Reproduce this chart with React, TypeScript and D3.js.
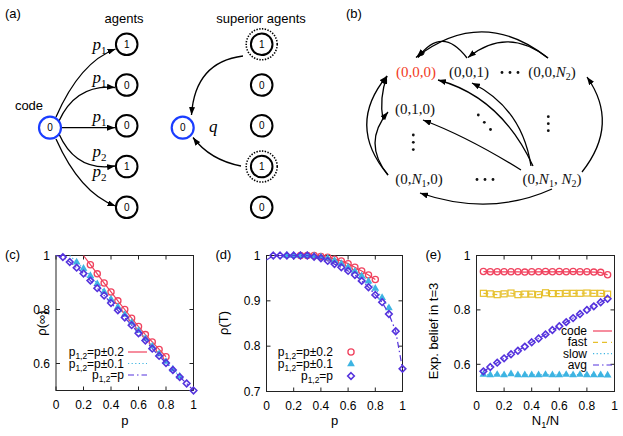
import * as d3 from 'd3';

// ---------- panel (c): rho(inf) vs p ----------
const cRedP = [0.25, 0.3, 0.35, 0.4, 0.45, 0.5, 0.55, 0.6, 0.65, 0.7, 0.75, 0.8];
const cRedV = [0.966, 0.932, 0.898, 0.865, 0.832, 0.8, 0.768, 0.737, 0.707, 0.68, 0.652, 0.625];
const cRedStart: [number, number] = [0.2, 1.0];

const cCyanP = [0.15, 0.2, 0.25, 0.3, 0.35, 0.4, 0.45, 0.5, 0.55, 0.6, 0.65, 0.7, 0.75, 0.8, 0.85, 0.9];
const cCyanV = [0.975, 0.952, 0.925, 0.895, 0.866, 0.838, 0.809, 0.781, 0.752, 0.722, 0.693, 0.664, 0.635, 0.607, 0.579, 0.552];
const cCyanStart: [number, number] = [0.1, 1.0];

const cBlueP = [0.05, 0.1, 0.15, 0.2, 0.25, 0.3, 0.35, 0.4, 0.45, 0.5, 0.55, 0.6, 0.65, 0.7, 0.75, 0.8, 0.85, 0.9, 0.95, 1.0];
const cBlueV = [0.994, 0.976, 0.955, 0.933, 0.907, 0.879, 0.852, 0.824, 0.797, 0.77, 0.742, 0.712, 0.685, 0.655, 0.628, 0.602, 0.576, 0.55, 0.526, 0.5];
const cBlueStart: [number, number] = [0, 1.0];

// ---------- panel (d): rho(T) vs p ----------
const dRedP = cRedP;
const dRedV = [1.0, 1.0, 1.0, 0.998, 0.996, 0.992, 0.988, 0.982, 0.974, 0.966, 0.957, 0.947];
const dRedStart: [number, number] = [0.2, 1.0];

const dCyanP = cCyanP;
const dCyanV = [1.0, 1.0, 1.0, 1.0, 0.999, 0.997, 0.994, 0.989, 0.982, 0.974, 0.965, 0.955, 0.943, 0.927, 0.907, 0.884];
const dCyanStart: [number, number] = [0.1, 1.0];

const dBlueP = cBlueP;
const dBlueV = [1.0, 1.0, 1.0, 1.0, 1.0, 1.0, 0.997, 0.994, 0.988, 0.981, 0.974, 0.966, 0.957, 0.944, 0.93, 0.913, 0.897, 0.871, 0.833, 0.75];
const dBlueStart: [number, number] = [0, 0.99];

// ---------- panel (e): expected belief at t=3 vs N1/N ----------
const eX = [0.05, 0.1, 0.15, 0.2, 0.25, 0.3, 0.35, 0.4, 0.45, 0.5, 0.55, 0.6, 0.65, 0.7, 0.75, 0.8, 0.85, 0.9, 0.95];
const eCode = [0.941, 0.94, 0.94, 0.94, 0.94, 0.94, 0.939, 0.94, 0.94, 0.941, 0.94, 0.941, 0.94, 0.941, 0.94, 0.94, 0.939, 0.938, 0.929];
const eFast = [0.861, 0.859, 0.856, 0.859, 0.862, 0.856, 0.858, 0.858, 0.856, 0.863, 0.86, 0.86, 0.861, 0.861, 0.861, 0.862, 0.861, 0.861, 0.858];
const eSlow = [0.562, 0.561, 0.562, 0.561, 0.564, 0.561, 0.561, 0.561, 0.561, 0.562, 0.561, 0.561, 0.562, 0.561, 0.562, 0.561, 0.561, 0.561, 0.56];
const eAvg = [0.574, 0.59, 0.606, 0.622, 0.637, 0.65, 0.665, 0.681, 0.695, 0.71, 0.726, 0.74, 0.755, 0.77, 0.785, 0.8, 0.813, 0.828, 0.841];

const xTicks = [0, 0.2, 0.4, 0.6, 0.8, 1];
const cYTicks = [0.6, 0.8, 1];
const dYTicks = [0.7, 0.8, 0.9, 1];
const eYTicks = [0.6, 0.8, 1];

// ---------- panel (a) ----------
const agentStates = ['1', '0', '0', '1', '0'];
const superiorStates = ['1', '0', '0', '1', '0'];
const superiorActive = [true, false, false, true, false];
const edgeSubs = ['1', '1', '1', '2', '2'];

const SANS = '"Liberation Sans", Arial, Helvetica, sans-serif';
const SERIF = '"Liberation Serif", "Times New Roman", serif';
const RED = '#f0425e';
const CYAN = '#3db4e2';
const BLUE = '#5533dd';
const YELLOW = '#e6c02c';

type Mk = 'circle' | 'triangle' | 'diamond' | 'square';
type Series = { xs: number[]; ys: number[]; start?: [number, number]; color: string; dash?: string; marker: Mk };
type Label = { main: string; sub?: string; rest?: string };
type Box = { l: number; r: number; t: number; b: number };

function Marker({ kind, color, x, y }: { kind: Mk; color: string; x: number; y: number }) {
  const t = `translate(${x},${y})`;
  if (kind === 'circle') return <circle cx={x} cy={y} r={3.1} fill="none" stroke={color} strokeWidth={1.3} />;
  if (kind === 'square') return <rect x={x - 3} y={y - 3} width={6} height={6} fill="none" stroke={color} strokeWidth={1.2} />;
  if (kind === 'triangle') return <path transform={t} d={d3.symbol(d3.symbolTriangle, 26)() || ''} fill={color} />;
  return <path transform={t} d="M0,-3.3L3.3,0L0,3.3L-3.3,0Z" fill="none" stroke={color} strokeWidth={1.6} />;
}

function LabelText({ lab, x, y, anchor, size }: { lab: Label; x: number; y: number; anchor: string; size: number }) {
  return (
    <text x={x} y={y} textAnchor={anchor} fontFamily={SANS} fontSize={size}>
      {lab.main}
      {lab.sub && <tspan dy={3} fontSize={size * 0.7}>{lab.sub}</tspan>}
      {lab.rest && <tspan dy={lab.sub ? -3 : 0}>{lab.rest}</tspan>}
    </text>
  );
}

function Plot(props: {
  box: Box; yDomain: [number, number]; yTicks: number[]; series: Series[];
  tag: string; xLabel: Label; yLabel: string; yLabelX: number; yLabelY: number; xLabelY: number;
  legend: { labels: Label[]; textRight: number; rows: number[]; lineX?: [number, number]; markerX?: number };
}) {
  const { box, yDomain, yTicks, series, legend } = props;
  const x = d3.scaleLinear().domain([0, 1]).range([box.l, box.r]);
  const y = d3.scaleLinear().domain(yDomain).range([box.b, box.t]);
  const line = d3.line<[number, number]>().x(d => x(d[0])).y(d => y(d[1]));
  const tk = 4;
  return (
    <g>
      <rect x={box.l} y={box.t} width={box.r - box.l} height={box.b - box.t} fill="none" stroke="#222" strokeWidth={1} />
      {xTicks.map(v => (
        <g key={'x' + v}>
          <line x1={x(v)} x2={x(v)} y1={box.b} y2={box.b - tk} stroke="#222" />
          <line x1={x(v)} x2={x(v)} y1={box.t} y2={box.t + tk} stroke="#222" />
          <text x={x(v)} y={box.b + 18} textAnchor="middle" fontFamily={SANS} fontSize={12}>{String(v)}</text>
        </g>
      ))}
      {yTicks.map(v => (
        <g key={'y' + v}>
          <line x1={box.l} x2={box.l + tk} y1={y(v)} y2={y(v)} stroke="#222" />
          <line x1={box.r} x2={box.r - tk} y1={y(v)} y2={y(v)} stroke="#222" />
          <text x={box.l - 6} y={y(v) + 4.3} textAnchor="end" fontFamily={SANS} fontSize={12}>{String(v)}</text>
        </g>
      ))}
      <text x={box.l - 51} y={box.t + 3} fontFamily={SANS} fontSize={13}>{props.tag}</text>
      <text transform={`translate(${props.yLabelX},${props.yLabelY}) rotate(-90)`} textAnchor="middle" fontFamily={SANS} fontSize={13}>{props.yLabel}</text>
      <LabelText lab={props.xLabel} x={(box.l + box.r) / 2} y={props.xLabelY} anchor="middle" size={13} />
      {series.map((s, i) => {
        const pts: [number, number][] = s.xs.map((v, j) => [v, s.ys[j]]);
        const lp = s.start ? [s.start, ...pts] : pts;
        return (
          <g key={i}>
            <path d={line(lp) || ''} fill="none" stroke={s.color} strokeWidth={1.2} strokeDasharray={s.dash} />
            {pts.map((p, j) => <Marker key={j} kind={s.marker} color={s.color} x={x(p[0])} y={y(p[1])} />)}
          </g>
        );
      })}
      {legend.labels.map((lab, i) => {
        const s = series[i];
        const cy = legend.rows[i];
        return (
          <g key={'l' + i}>
            <LabelText lab={lab} x={legend.textRight} y={cy + 4} anchor="end" size={12} />
            {legend.lineX && <line x1={legend.lineX[0]} x2={legend.lineX[1]} y1={cy} y2={cy} stroke={s.color} strokeWidth={1.2} strokeDasharray={s.dash} />}
            {legend.markerX !== undefined && <Marker kind={s.marker} color={s.color} x={legend.markerX} y={cy} />}
          </g>
        );
      })}
    </g>
  );
}

function PanelA() {
  const codeX = 50, codeY = 127.7, agentX = 126.7, supX = 261.7, blue2X = 182.7;
  const ys = d3.range(agentStates.length).map(i => 44.3 + i * 40.75);
  const paths = [
    `M56,117 Q80,62 115.5,49`,
    `M59,121 Q76,84 115,87.5`,
    `M62,${codeY} L115,${codeY}`,
    `M59,134 Q76,172 115,166`,
    `M56,139 Q80,193 115.5,206`,
  ];
  return (
    <g>
      <text x={5} y={18} fontFamily={SANS} fontSize={13}>(a)</text>
      <text x={124} y={23} textAnchor="middle" fontFamily={SANS} fontSize={13}>agents</text>
      <text x={261} y={23} textAnchor="middle" fontFamily={SANS} fontSize={13}>superior agents</text>
      <text x={29} y={110} textAnchor="middle" fontFamily={SANS} fontSize={13}>code</text>
      {paths.map((d, i) => <path key={i} d={d} fill="none" stroke="#000" strokeWidth={1.3} markerEnd="url(#ahA)" />)}
      {edgeSubs.map((s, i) => {
        const by = [50, 83, 121.5, 156.5, 177][i];
        return (
          <text key={i} x={92.5} y={by} fontFamily={SERIF} fontStyle="italic" fontSize={17}>
            p<tspan dy={4} fontSize={11} fontStyle="normal">{s}</tspan>
          </text>
        );
      })}
      <path d="M243,56 Q195,62 191.5,115" fill="none" stroke="#000" strokeWidth={1.3} markerEnd="url(#ahA)" />
      <path d="M241,166 Q210,160 193,137.5" fill="none" stroke="#000" strokeWidth={1.3} markerEnd="url(#ahA)" />
      <text x={209} y={132} fontFamily={SERIF} fontStyle="italic" fontSize={17}>q</text>
      {[[codeX, codeY], [blue2X, codeY]].map(([cx, cy], i) => (
        <g key={'b' + i}>
          <circle cx={cx} cy={cy} r={11} fill="#fff" stroke="#1a3dff" strokeWidth={2.2} />
          <text x={cx} y={cy + 3.5} textAnchor="middle" fontFamily={SANS} fontSize={10}>0</text>
        </g>
      ))}
      {ys.map((cy, i) => (
        <g key={'a' + i}>
          <circle cx={agentX} cy={cy} r={10.8} fill="#fff" stroke="#000" strokeWidth={2} />
          <text x={agentX} y={cy + 3.5} textAnchor="middle" fontFamily={SANS} fontSize={10}>{agentStates[i]}</text>
          {superiorActive[i] && <circle cx={supX} cy={cy} r={15.5} fill="none" stroke="#000" strokeWidth={1.6} strokeDasharray="1.4,1.4" />}
          <circle cx={supX} cy={cy} r={10.8} fill="#fff" stroke="#000" strokeWidth={2} />
          <text x={supX} y={cy + 3.5} textAnchor="middle" fontFamily={SANS} fontSize={10}>{superiorStates[i]}</text>
        </g>
      ))}
    </g>
  );
}

type Part = string | [string, string];

function State({ x, y, parts, color = '#111' }: { x: number; y: number; parts: Part[]; color?: string }) {
  const spans: JSX.Element[] = [];
  let shift = 0;
  parts.forEach((p, i) => {
    if (typeof p === 'string') {
      spans.push(<tspan key={i} dy={-shift}>{p}</tspan>);
      shift = 0;
    } else {
      spans.push(<tspan key={i + 'n'} dy={-shift} fontStyle="italic">{p[0]}</tspan>);
      spans.push(<tspan key={i + 's'} dy={3} fontSize={10}>{p[1]}</tspan>);
      shift = 3;
    }
  });
  return (
    <text x={x} y={y} textAnchor="middle" fontFamily={SERIF} fontSize={15} fill={color}>{spans}</text>
  );
}

function PanelB() {
  const arrows = [
    'M548,58 Q482,6 416,57.5',
    'M467,58 Q442,25 418,57.5',
    'M548,58 Q507,26 468,57.5',
    'M533,166 Q501,97 438,80',
    'M531,166 Q522,108 472,83',
    'M521,170 Q468,137 423,120',
    'M582,172 Q620,124 587,77',
    'M552,189 Q490,217 420,193',
    'M388,175 Q346,125 387,76',
    'M388,175 Q362,143 388,112',
    'M383,120 Q379,98 387,76',
  ];
  const dots: [number, number][] = [
    [502, 72.5], [510, 72.5], [518, 72.5],
    [477, 179.5], [485, 179.5], [493, 179.5],
    [548.3, 116.7], [548.3, 123.7], [548.3, 130.7],
    [413.3, 135], [413.3, 142.3], [413.3, 149.6],
    [478.3, 115], [484.3, 122.3], [490.5, 129.5],
  ];
  return (
    <g>
      <text x={346} y={18} fontFamily={SANS} fontSize={13}>(b)</text>
      {arrows.map((d, i) => <path key={i} d={d} fill="none" stroke="#000" strokeWidth={1.3} markerEnd="url(#ahB)" />)}
      <State x={416} y={77} parts={['(0,0,0)']} color="#f23a1e" />
      <State x={469} y={77} parts={['(0,0,1)']} />
      <State x={552} y={77} parts={['(0,0,', ['N', '2'], ')']} />
      <State x={415} y={113.5} parts={['(0,1,0)']} />
      <State x={419} y={183.5} parts={['(0,', ['N', '1'], ',0)']} />
      <State x={552} y={183.5} parts={['(0,', ['N', '1'], ', ', ['N', '2'], ')']} />
      {dots.map(([cx, cy], i) => <circle key={i} cx={cx} cy={cy} r={1.4} fill="#111" />)}
    </g>
  );
}

export default function App() {
  const rows3 = [352, 363.5, 375];
  return (
    <svg width={623} height={436} style={{ position: 'absolute', left: 0, top: 0, background: '#fff' }}>
      <defs>
        <marker id="ahA" viewBox="0 0 10 10" refX={10} refY={5} markerWidth={8} markerHeight={6} orient="auto" markerUnits="userSpaceOnUse" preserveAspectRatio="none">
          <path d="M0,0L10,5L0,10Z" fill="#000" />
        </marker>
        <marker id="ahB" viewBox="0 0 10 10" refX={10} refY={5} markerWidth={8} markerHeight={6} orient="auto" markerUnits="userSpaceOnUse" preserveAspectRatio="none">
          <path d="M0,0L10,5L0,10Z" fill="#000" />
        </marker>
      </defs>
      <rect width={623} height={436} fill="#fff" />
      <PanelA />
      <PanelB />
      <Plot
        box={{ l: 56, r: 193.5, t: 255.5, b: 390.5 }} yDomain={[0.5, 1]} yTicks={cYTicks}
        tag="(c)" yLabel="ρ(∞)" yLabelX={46} yLabelY={323} xLabel={{ main: 'p' }} xLabelY={425}
        series={[
          { xs: cRedP, ys: cRedV, start: cRedStart, color: RED, marker: 'circle' },
          { xs: cCyanP, ys: cCyanV, start: cCyanStart, color: CYAN, dash: '1.2,2.4', marker: 'triangle' },
          { xs: cBlueP, ys: cBlueV, start: cBlueStart, color: BLUE, dash: '6,3,1.5,3', marker: 'diamond' },
        ]}
        legend={{
          labels: [{ main: 'p', sub: '1,2', rest: '=p±0.2' }, { main: 'p', sub: '1,2', rest: '=p±0.1' }, { main: 'p', sub: '1,2', rest: '=p' }],
          textRight: 124, rows: rows3, lineX: [128, 147],
        }}
      />
      <Plot
        box={{ l: 266.5, r: 402.5, t: 255.5, b: 391.5 }} yDomain={[0.7, 1]} yTicks={dYTicks}
        tag="(d)" yLabel="ρ(T)" yLabelX={228} yLabelY={323} xLabel={{ main: 'p' }} xLabelY={425}
        series={[
          { xs: dRedP, ys: dRedV, start: dRedStart, color: RED, marker: 'circle' },
          { xs: dCyanP, ys: dCyanV, start: dCyanStart, color: CYAN, dash: '1.2,2.4', marker: 'triangle' },
          { xs: dBlueP, ys: dBlueV, start: dBlueStart, color: BLUE, dash: '6,3,1.5,3', marker: 'diamond' },
        ]}
        legend={{
          labels: [{ main: 'p', sub: '1,2', rest: '=p±0.2' }, { main: 'p', sub: '1,2', rest: '=p±0.1' }, { main: 'p', sub: '1,2', rest: '=p' }],
          textRight: 333, rows: [352, 364, 376], markerX: 351,
        }}
      />
      <Plot
        box={{ l: 476.5, r: 614.5, t: 255.5, b: 391.5 }} yDomain={[0.5, 1]} yTicks={eYTicks}
        tag="(e)" yLabel="Exp. belief in t=3" yLabelX={438} yLabelY={331} xLabel={{ main: 'N', sub: '1', rest: '/N' }} xLabelY={425}
        series={[
          { xs: eX, ys: eCode, color: RED, marker: 'circle' },
          { xs: eX, ys: eFast, color: YELLOW, dash: '5,4', marker: 'square' },
          { xs: eX, ys: eSlow, color: CYAN, dash: '1.2,2.4', marker: 'triangle' },
          { xs: eX, ys: eAvg, color: BLUE, dash: '6,3,1.5,3', marker: 'diamond' },
        ]}
        legend={{
          labels: [{ main: 'code' }, { main: 'fast' }, { main: 'slow' }, { main: 'avg' }],
          textRight: 587, rows: [331, 342.3, 353.6, 365], lineX: [593, 612],
        }}
      />
    </svg>
  );
}
